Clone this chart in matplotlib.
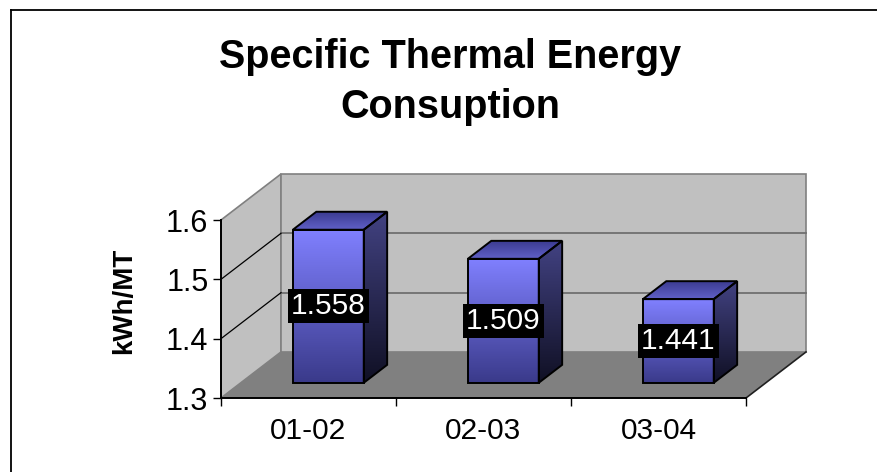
import numpy as np
import matplotlib
matplotlib.use('Agg')
import matplotlib.pyplot as plt
from matplotlib.patches import Polygon
from matplotlib.lines import Line2D

plt.rcParams['font.family'] = ['Liberation Sans', 'DejaVu Sans']

periods = ['01-02', '02-03', '03-04']
consumption = [1.558, 1.509, 1.441]
y_ticks = [1.3, 1.4, 1.5, 1.6]
title = 'Specific Thermal Energy\nConsuption'
y_label = 'kWh/MT'

Y_MIN, Y_MAX = 1.3, 1.6
# oblique shift of the back wall, in data units (categories, kWh/MT)
DX, DY = 0.343, 0.0776
BAR_W = 0.405
D_FRONT, D_BACK = 0.33, 0.72


def proj(x, y, d):
    return (x + d * DX, y + d * DY)


def face(ax, pts, **kw):
    poly = Polygon([proj(*p) for p in pts], closed=True, clip_on=False, **kw)
    ax.add_patch(poly)
    return poly


def shaded_face(ax, pts, c_start, c_end, vertical=True, zorder=3):
    poly = face(ax, pts, facecolor='none', edgecolor='black', lw=1.4, zorder=zorder + 0.1)
    xy = np.array([proj(*p) for p in pts])
    c0, c1 = np.array(c_start) / 255, np.array(c_end) / 255
    t = np.linspace(0, 1, 128)
    grad = c0 + (c1 - c0) * t[:, None]
    img = grad[:, None, :] if vertical else grad[None, :, :]
    im = ax.imshow(img, extent=(xy[:, 0].min(), xy[:, 0].max(), xy[:, 1].min(), xy[:, 1].max()),
                   origin='upper', aspect='auto', interpolation='bilinear', zorder=zorder)
    im.set_clip_path(poly)
    im.set_clip_box(ax.figure.bbox)


fig = plt.figure(figsize=(8.77, 4.72), dpi=100)
ax = fig.add_axes([221 / 877, 1 - 398 / 472, 525 / 877, 178 / 472])
n = len(periods)

# walls and floor
face(ax, [(0, Y_MIN, 0), (0, Y_MAX, 0), (0, Y_MAX, 1), (0, Y_MIN, 1)],
     facecolor='#c0c0c0', edgecolor='#808080', lw=1.2, zorder=1)
face(ax, [(0, Y_MIN, 1), (0, Y_MAX, 1), (n, Y_MAX, 1), (n, Y_MIN, 1)],
     facecolor='#c0c0c0', edgecolor='#808080', lw=1.2, zorder=1)
face(ax, [(0, Y_MIN, 0), (n, Y_MIN, 0), (n, Y_MIN, 1), (0, Y_MIN, 1)],
     facecolor='#808080', edgecolor='none', zorder=1.1)
ax.add_line(Line2D(*zip(proj(n, Y_MIN, 0), proj(n, Y_MIN, 1)), color='#202020', lw=1.2,
                   clip_on=False, zorder=1.2))

# gridlines on the back and side walls
for v in y_ticks[1:-1]:
    ax.add_line(Line2D(*zip(proj(0, v, 1), proj(n, v, 1)), color='#707070', lw=1.3,
                       clip_on=False, zorder=1.2))
    ax.add_line(Line2D(*zip(proj(0, v, 0), proj(0, v, 1)), color='black', lw=0.9,
                       clip_on=False, zorder=1.2))

# bars
for i, v in enumerate(consumption):
    x0 = i + 0.5 - BAR_W / 2
    x1 = i + 0.5 + BAR_W / 2
    shaded_face(ax, [(x0, Y_MIN, D_FRONT), (x0, v, D_FRONT), (x1, v, D_FRONT), (x1, Y_MIN, D_FRONT)],
                (128, 128, 255), (58, 58, 138))
    shaded_face(ax, [(x1, Y_MIN, D_FRONT), (x1, v, D_FRONT), (x1, v, D_BACK), (x1, Y_MIN, D_BACK)],
                (66, 66, 130), (16, 16, 36))
    shaded_face(ax, [(x0, v, D_FRONT), (x1, v, D_FRONT), (x1, v, D_BACK), (x0, v, D_BACK)],
                (60, 60, 145), (96, 96, 200))
    cx, cy = proj(i + 0.5, (Y_MIN + v) / 2, D_FRONT)
    ax.text(cx, cy, f'{v:.3f}', ha='center', va='center', color='white', fontsize=21.5,
            zorder=6, bbox=dict(boxstyle='square,pad=0.1', facecolor='black', edgecolor='none'))

ax.set_xlim(0, n)
ax.set_ylim(Y_MIN, Y_MAX)
ax.patch.set_visible(False)
for s in ['top', 'right']:
    ax.spines[s].set_visible(False)
ax.spines['left'].set_linewidth(1.4)
ax.spines['bottom'].set_linewidth(1.4)
ax.set_yticks(y_ticks)
ax.set_yticklabels([f'{t:.1f}' for t in y_ticks], fontsize=22)
ax.set_xticks(range(n + 1))
ax.set_xticklabels([])
ax.set_xticks(np.arange(n) + 0.5, minor=True)
ax.set_xticklabels(periods, minor=True, fontsize=21.5)
ax.tick_params(axis='both', which='major', length=6, width=1, direction='out', pad=3)
ax.tick_params(axis='x', which='minor', length=0, pad=14)

fig.text(450 / 877, 1 - 82 / 472, title, ha='center', va='center', fontsize=28.5,
         fontweight='bold', linespacing=1.4)
fig.text(124 / 877, 1 - 301 / 472, y_label, rotation=90, ha='center', va='center',
         fontsize=20, fontweight='bold')

# chart area frame (left and top edges fall inside the canvas)
fig.add_artist(Line2D([11 / 877, 11 / 877], [0, 1 - 10 / 472], transform=fig.transFigure,
                      color='black', lw=1.3))
fig.add_artist(Line2D([11 / 877, 1], [1 - 10 / 472, 1 - 10 / 472], transform=fig.transFigure,
                      color='black', lw=1.3))

fig.savefig('out.png', dpi=100)
